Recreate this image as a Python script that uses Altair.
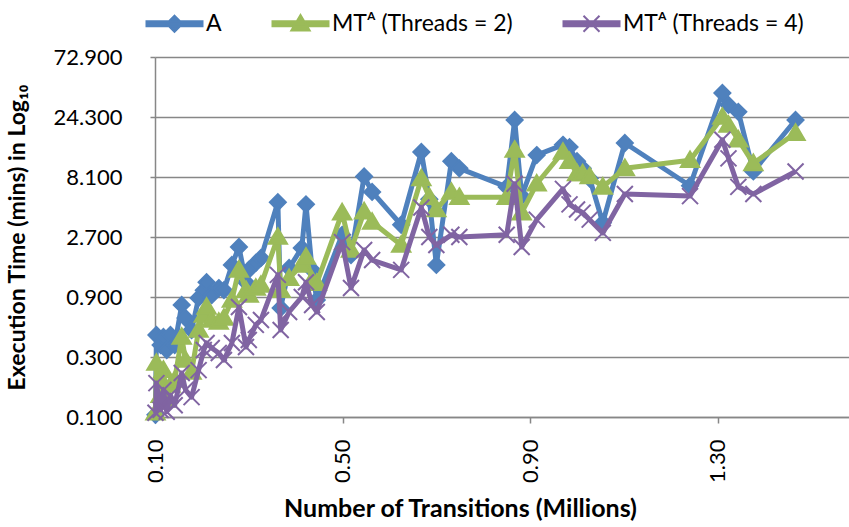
import altair as alt
import pandas as pd

# ---- data ----
x_millions = [0.101, 0.103, 0.112, 0.118, 0.125, 0.133, 0.142, 0.157, 0.165, 0.178,
              0.193, 0.204, 0.210, 0.221, 0.236, 0.247, 0.264, 0.279, 0.294, 0.300,
              0.315, 0.326, 0.362, 0.368, 0.386, 0.413, 0.422, 0.435, 0.445, 0.499,
              0.518, 0.546, 0.563, 0.625, 0.668, 0.685, 0.700, 0.732, 0.749, 0.850,
              0.867, 0.882, 0.914, 0.970, 0.984, 1.000, 1.012, 1.027, 1.055, 1.102,
              1.241, 1.310, 1.323, 1.344, 1.376, 1.466]
a_mins = [0.104, 0.449, 0.373, 0.433, 0.341, 0.449, 0.373, 0.778, 0.613, 0.492,
          0.885, 1.02, 1.18, 0.934, 1.06, 1.02, 1.62, 2.25, 1.18, 1.48,
          1.68, 1.84, 5.10, 0.736, 1.53, 2.21, 4.91, 1.48, 0.853, 2.81,
          1.94, 8.17, 6.16, 3.38, 12.8, 5.40, 1.62, 10.8, 9.49, 6.76,
          23.0, 5.71, 12.1, 14.6, 14.0, 10.8, 9.49, 7.87, 3.51, 15.1,
          6.90, 37.7, 30.3, 26.7, 8.97, 23.0]
mt2_mins = [0.108, 0.269, 0.149, 0.236, 0.137, 0.180, 0.197, 0.433, 0.284, 0.228,
            0.492, 0.648, 0.750, 0.591, 0.570, 0.613, 0.853, 1.48, 1.02, 0.934,
            1.06, 1.12, 2.70, 1.02, 1.27, 1.62, 1.87, 1.23, 1.16, 4.22,
            2.13, 4.30, 3.55, 2.33, 7.87, 5.60, 4.47, 6.15, 5.60, 5.60,
            13.3, 4.22, 7.16, 12.8, 10.8, 8.64, 8.64, 8.17, 6.76, 9.49,
            11.0, 24.3, 21.0, 16.0, 10.4, 18.1]
mt4_mins = [0.108, 0.186, 0.114, 0.164, 0.110, 0.149, 0.124, 0.224, 0.164, 0.144,
            0.236, 0.341, 0.388, 0.354, 0.323, 0.284, 0.388, 0.750, 0.360, 0.410,
            0.540, 0.591, 1.35, 0.492, 0.684, 0.900, 1.18, 0.778, 0.684, 2.46,
            1.06, 2.13, 1.77, 1.48, 4.64, 2.70, 2.33, 2.81, 2.70, 2.81,
            7.16, 2.25, 3.71, 6.52, 4.91, 4.47, 4.22, 3.71, 2.91, 5.93,
            5.71, 16.0, 11.4, 6.76, 5.93, 8.97]

series_names = ["A", "MTᴬ (Threads = 2)", "MTᴬ (Threads = 4)"]
series_colors = ["#4F81BD", "#9BBB59", "#8064A2"]
y_ticks = [0.1, 0.3, 0.9, 2.7, 8.1, 24.3, 72.9]
x_ticks = [0.1, 0.5, 0.9, 1.3]

# ---- marker shapes ----
marker_paths = [
    "M0,-1L1,0L0,1L-1,0Z",
    "M0,-1.1L1.15,0.85L-1.15,0.85Z",
    "M-1,-1L1,1M-1,1L1,-1",
]
line_bar = "M-3.5,-0.3H3.5V0.3H-3.5Z "
legend_paths = [line_bar + p for p in marker_paths]

rows = []
for s, vals in zip(series_names, [a_mins, mt2_mins, mt4_mins]):
    for i, (x, v) in enumerate(zip(x_millions, vals)):
        rows.append({"x": x, "series": s, "value": v, "idx": i})
df = pd.DataFrame(rows)

FONT = "Lato"
GRID = "#878787"

x_enc = alt.X(
    "x:Q",
    scale=alt.Scale(domain=[0.1, 1.58], nice=False, zero=False),
    axis=alt.Axis(
        values=x_ticks, format=".2f", labelAngle=-90, labelFontSize=22,
        labelFont=FONT, labelColor="black", labelPadding=16,
        grid=False, tickSize=6, tickColor=GRID, tickWidth=1.5,
        domainColor=GRID, domainWidth=1.5,
        title="Number of Transitions (Millions)", titleFont=FONT,
        titleFontSize=25, titleFontWeight="bold", titleColor="black",
        titlePadding=14, titleX=305, titleAlign="center",
    ),
)
y_enc = alt.Y(
    "value:Q",
    scale=alt.Scale(type="log", domain=[0.1, 72.9], nice=False),
    axis=alt.Axis(
        values=y_ticks, format=".3f", labelFontSize=22, labelFont=FONT,
        labelColor="black", labelPadding=28,
        grid=True, gridColor=GRID, gridWidth=1.5,
        tickSize=5, tickColor=GRID, tickWidth=1.5,
        domainColor=GRID, domainWidth=1.5,
        title="Execution Time (mins) in Log₁₀", titleFont=FONT,
        titleFontSize=23, titleFontWeight="bold", titleColor="black",
        titlePadding=24,
    ),
)

base = alt.Chart(df)
layers = []
for name, color, path in zip(series_names, series_colors, marker_paths):
    sub = base.transform_filter(alt.datum.series == name)
    layers.append(
        sub.mark_line(color=color, strokeWidth=5, strokeJoin="round").encode(
            x=x_enc, y=y_enc, order="idx:Q"
        )
    )
    layers.append(
        sub.mark_point(shape=path, filled=True, fill=color, stroke=color,
                       strokeWidth=2, size=256, opacity=1).encode(x=x_enc, y=y_enc)
    )

legend_def = alt.Legend(
    orient="none", legendX=8, legendY=-45,
    direction="horizontal", title=None,
    labelFontSize=23, labelFont=FONT, labelColor="black",
    symbolSize=256, symbolStrokeWidth=2, symbolOpacity=1,
    labelOffset=20, columnPadding=46, labelLimit=300,
)
legend_scale_color = alt.Scale(domain=series_names, range=series_colors)
legend_layer = base.mark_point(filled=True, opacity=0, size=256).encode(
    x=x_enc,
    y=y_enc,
    fill=alt.Fill("series:N", scale=legend_scale_color, legend=legend_def),
    stroke=alt.Stroke("series:N", scale=legend_scale_color, legend=legend_def),
    shape=alt.Shape("series:N",
                    scale=alt.Scale(domain=series_names, range=legend_paths),
                    legend=legend_def),
)

chart = alt.layer(*layers, legend_layer).properties(
    width=694, height=360,
    autosize=alt.AutoSizeParams(type="none"),
    padding={"left": 155, "top": 57, "right": 0, "bottom": 110},
    background="white",
).configure_view(stroke=None)

chart.save("out.html", embed_options={"renderer": "svg", "actions": False})
